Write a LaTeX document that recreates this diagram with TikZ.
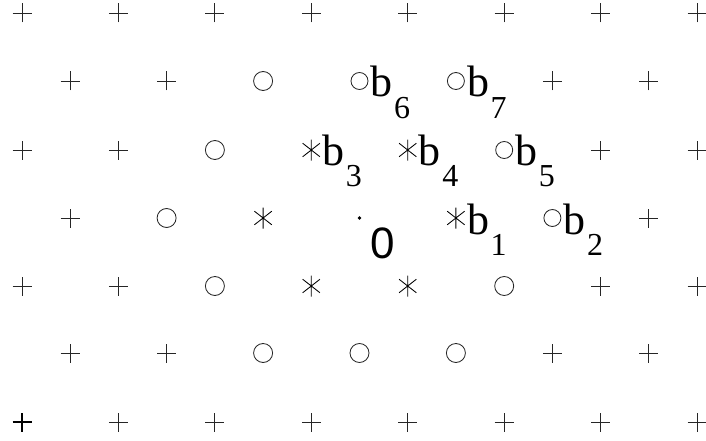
\documentclass[tikz,border=0pt]{standalone}
\usepackage{fontspec}
\setmainfont{Liberation Serif}
\newfontfamily\sansf{Liberation Sans}
\tikzset{
  sym/.style={line width=0.85pt, draw=black!85},
  pplus/.pic={\draw[sym] (-9.5pt,0pt)--(9.5pt,0pt) (0pt,-9.5pt)--(0pt,9.5pt);},
  pplusb/.pic={\draw[line width=1.3pt, draw=black] (-9.5pt,0pt)--(9.5pt,0pt) (0pt,-9.5pt)--(0pt,9.5pt);},
  pcirc/.pic={\draw[sym] (0pt,0pt) circle[radius=9.5pt];},
  plcirc/.pic={\draw[sym] (0pt,0pt) circle[radius=8.5pt];},
  past/.pic={\draw[sym, draw=black] (90:10.5pt)--(270:10.5pt) (38:11pt)--(218:11pt) (142:11pt)--(322:11pt);},
  blab/.style={anchor=base west, inner sep=0pt, font=\fontsize{44}{44}\selectfont},
  slab/.style={anchor=base west, inner sep=0pt, font=\fontsize{32}{32}\selectfont},
  zlab/.style={anchor=base west, inner sep=0pt, font=\sansf\fontsize{44}{44}\selectfont}
}
\begin{document}
\begin{tikzpicture}[x=1pt,y=-1pt]
\useasboundingbox (0,0) rectangle (706,441);
% row 0: all plus
\foreach \xx in {22,118.4,214.9,311.3,407.7,504.2,600.6,697.0}
  \pic at (\xx,13) {pplus};
% row 6: all plus (first one heavier)
\pic at (22,422) {pplusb};
\foreach \xx in {118.4,214.9,311.3,407.7,504.2,600.6,697.0}
  \pic at (\xx,422) {pplus};
% row 1 (y=81)
\pic at (70.2,81) {pplus};
\pic at (166.6,81) {pplus};
\pic at (263.1,81) {pcirc};
\pic at (359.5,81) {plcirc};
\pic at (455.9,81) {plcirc};
\pic at (552.4,81) {pplus};
\pic at (648.8,81) {pplus};
% row 2 (y=150)
\pic at (22,150) {pplus};
\pic at (118.4,150) {pplus};
\pic at (214.9,150) {pcirc};
\pic at (311.3,150) {past};
\pic at (407.7,150) {past};
\pic at (504.2,150) {plcirc};
\pic at (600.6,150) {pplus};
\pic at (697.0,150) {pplus};
% row 3 (y=218)
\pic at (70.2,218) {pplus};
\pic at (166.6,218) {pcirc};
\pic at (263.1,218) {past};
\fill (359.5,218) circle[radius=1.8pt];
\pic at (455.9,218) {past};
\pic at (552.4,218) {plcirc};
\pic at (648.8,218) {pplus};
% row 4 (y=286)
\pic at (22,286) {pplus};
\pic at (118.4,286) {pplus};
\pic at (214.9,286) {pcirc};
\pic at (311.3,286) {past};
\pic at (407.7,286) {past};
\pic at (504.2,286) {pcirc};
\pic at (600.6,286) {pplus};
\pic at (697.0,286) {pplus};
% row 5 (y=353)
\pic at (70.2,353) {pplus};
\pic at (166.6,353) {pplus};
\pic at (263.1,353) {pcirc};
\pic at (359.5,353) {pcirc};
\pic at (455.9,353) {pcirc};
\pic at (552.4,353) {pplus};
\pic at (648.8,353) {pplus};
% labels
\node[blab] (b6) at (370.5,97) {b};
\node[slab] (s6) at ([xshift=1pt,yshift=-21pt]b6.base east) {6};
\node[blab] (b7) at (466.9,97) {b};
\node[slab] (s7) at ([xshift=1pt,yshift=-21pt]b7.base east) {7};
\node[blab] (b3) at (322.3,165) {b};
\node[slab] (s3) at ([xshift=1pt,yshift=-21pt]b3.base east) {3};
\node[blab] (b4) at (418.7,165) {b};
\node[slab] (s4) at ([xshift=1pt,yshift=-21pt]b4.base east) {4};
\node[blab] (b5) at (515.2,165) {b};
\node[slab] (s5) at ([xshift=1pt,yshift=-21pt]b5.base east) {5};
\node[blab] (b1) at (466.9,234) {b};
\node[slab] (s1) at ([xshift=1pt,yshift=-21pt]b1.base east) {1};
\node[blab] (b2) at (563.4,234) {b};
\node[slab] (s2) at ([xshift=1pt,yshift=-21pt]b2.base east) {2};
\node[zlab] (z) at (370.5,258) {0};
\end{tikzpicture}
\end{document}
